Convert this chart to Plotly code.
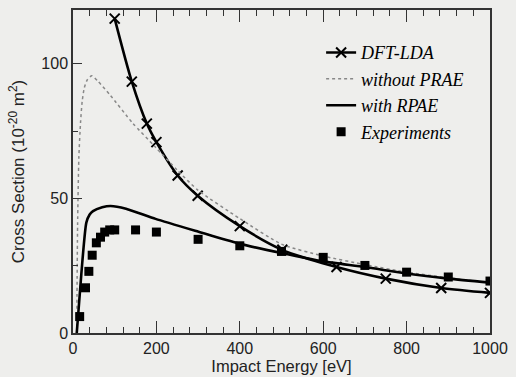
import plotly.graph_objects as go

# DFT-LDA (crosses)
dft_x = [100, 141, 177, 200, 251, 299, 400, 502, 632, 750, 883, 1000]
dft_y = [116.8, 93.4, 77.8, 70.9, 58.5, 51.0, 39.7, 30.9, 24.5, 20.2, 16.7, 14.9]

# without PRAE (dotted)
noprae_x = [9, 11, 14, 18, 22, 27, 34, 45, 60, 88, 143, 198, 250, 300, 400, 500, 600, 700, 800, 900, 1000]
noprae_y = [0, 40, 65, 78, 86, 91, 94, 95.6, 93.5, 88.6, 78, 69, 60.5, 53, 42.5, 33, 28.6, 25.4, 22.6, 20.5, 18.7]

# with RPAE (solid)
rpae_x = [9, 20, 32, 40, 48, 70, 90, 127, 198, 301, 396, 500, 600, 700, 800, 900, 1000]
rpae_y = [0, 22, 41, 44, 45.3, 46.7, 47.2, 46.2, 42.4, 37.6, 33.3, 29.7, 26.6, 24.5, 22.1, 20.2, 18.7]

# Experiments (squares)
exp_x = [16, 30, 38, 46, 56, 66, 76, 88, 100, 150, 200, 300, 400, 500, 600, 700, 800, 900, 1000]
exp_y = [6.1, 16.8, 22.9, 28.9, 33.5, 35.6, 37.5, 38.3, 38.3, 38.3, 37.5, 34.8, 32.4, 30.3, 28.1, 25.1, 22.6, 20.8, 19.3]

fig = go.Figure()
fig.add_trace(go.Scatter(
    x=dft_x, y=dft_y, mode="lines+markers", name="DFT-LDA",
    line=dict(color="black", width=2.6, shape="spline", smoothing=0.8),
    marker=dict(symbol="x-thin", size=10, line=dict(color="black", width=2)),
))
fig.add_trace(go.Scatter(
    x=noprae_x, y=noprae_y, mode="lines", name="without PRAE",
    line=dict(color="#888888", width=1.5, dash="dot", shape="spline", smoothing=0.6),
))
fig.add_trace(go.Scatter(
    x=rpae_x, y=rpae_y, mode="lines", name="with RPAE",
    line=dict(color="black", width=2.6, shape="spline", smoothing=0.6),
))
fig.add_trace(go.Scatter(
    x=exp_x, y=exp_y, mode="markers", name="Experiments",
    marker=dict(symbol="square", size=9, color="black"),
))

sans = "Liberation Sans, Arial, sans-serif"
tickfont = dict(family=sans, size=16, color="#222")

fig.update_layout(
    width=516, height=377,
    margin=dict(l=73, r=21, t=8, b=41),
    paper_bgcolor="#eeeeec", plot_bgcolor="#eeeeec",
    showlegend=True,
    legend=dict(
        x=0.595, y=0.925, xanchor="left", yanchor="top",
        bgcolor="rgba(0,0,0,0)",
        font=dict(family="Liberation Serif, Times New Roman, serif", size=18, color="black", style="italic"),
        tracegroupgap=0, itemwidth=30,
    ),
    xaxis=dict(
        range=[0, 1000], tickvals=[0, 200, 400, 600, 800, 1000],
        ticks="inside", ticklen=12, tickwidth=1.2, tickcolor="#333",
        minor=dict(dtick=40, ticks="inside", ticklen=6, tickwidth=1, tickcolor="#333"),
        showline=True, linecolor="#333", linewidth=1.5, mirror="ticks",
        showgrid=False, zeroline=False,
        tickfont=tickfont,
        title=dict(text="Impact Energy [eV]", font=dict(family=sans, size=16.5, color="#222"), standoff=0),
    ),
    yaxis=dict(
        range=[0, 120], tickvals=[0, 50, 100],
        ticks="inside", ticklen=9, tickwidth=1.2, tickcolor="#333",
        minor=dict(dtick=25, ticks="inside", ticklen=5, tickwidth=1, tickcolor="#333"),
        showline=True, linecolor="#333", linewidth=1.5, mirror=True,
        showgrid=False, zeroline=False,
        tickfont=tickfont,
        title=dict(text="Cross Section (10<sup>-20</sup> m<sup>2</sup>)", font=dict(family=sans, size=17, color="#222"), standoff=12),
    ),
)

fig.write_html("out.html", config={"displayModeBar": False},
               post_script="document.body.style.margin='0';document.body.style.overflow='hidden';")
